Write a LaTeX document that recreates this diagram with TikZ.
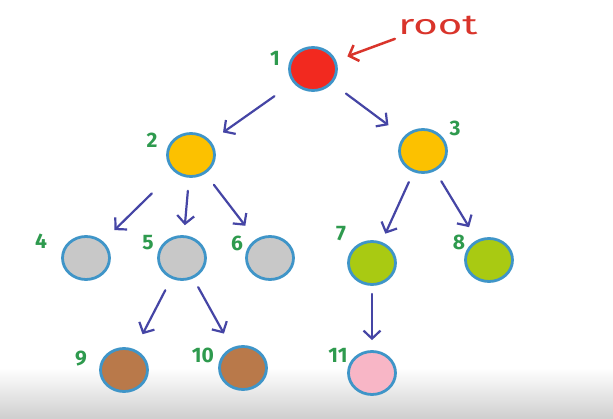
\documentclass[tikz,border=0pt]{standalone}
\usepackage{fontspec}
\setsansfont{Fira Sans}
\usetikzlibrary{shapes.geometric, arrows.meta}
\definecolor{ringblue}{HTML}{3F95C8}
\definecolor{arrowblue}{HTML}{4545A5}
\definecolor{numgreen}{HTML}{2E9A4E}
\definecolor{rootred}{HTML}{D9342B}
\definecolor{fillred}{HTML}{F2291F}
\definecolor{fillorange}{HTML}{FCC100}
\definecolor{fillgray}{HTML}{C8C8C8}
\definecolor{filllime}{HTML}{A9CA12}
\definecolor{fillbrown}{HTML}{B9794A}
\definecolor{fillpink}{HTML}{F8B6C6}

\begin{document}
\begin{tikzpicture}[x=1pt, y=-1pt,
    vertex/.style={ellipse, draw=ringblue, line width=2.8pt, minimum width=47pt, minimum height=43pt, inner sep=0pt},
    num/.style={text=numgreen, font=\sffamily\bfseries\fontsize{21}{21}\selectfont},
    arr/.style={arrowblue, line width=2.2pt, line cap=round, -{Straight Barb[length=8pt, width=17pt]}}]
    \useasboundingbox (0,0) rectangle (613,419);
    \fill[white] (0,0) rectangle (613,419);

    % grey band at the bottom
    \shade[top color=white, bottom color=black!19] (0,368) rectangle (613,419);

    % 1. vertices
    \node[vertex, fill=fillred]    (n1)  at (313,69)  {};
    \node[vertex, fill=fillorange] (n2)  at (191,155) {};
    \node[vertex, fill=fillorange] (n3)  at (423,151) {};
    \node[vertex, fill=fillgray]   (n4)  at (86,258)  {};
    \node[vertex, fill=fillgray]   (n5)  at (182,258) {};
    \node[vertex, fill=fillgray]   (n6)  at (270,258) {};
    \node[vertex, fill=filllime]   (n7)  at (372,263) {};
    \node[vertex, fill=filllime]   (n8)  at (489,260) {};
    \node[vertex, fill=fillbrown]  (n9)  at (124,370) {};
    \node[vertex, fill=fillbrown]  (n10) at (243,368) {};
    \node[vertex, fill=fillpink]   (n11) at (372,373) {};

    % 2. numbers
    \foreach \i/\x/\y in {1/275/58, 2/152/140, 3/455/128, 4/41/241, 5/148/243, 6/237/243,
                          7/341/234, 8/459/242, 9/81/359, 10/203/355, 11/338/355} {
        \node[num] (l\i) at (\x,\y) {\i};
    }

    % 3. edges (start gap / end gap)
    \foreach \a/\b/\s/\e in {1/2/23/15, 1/3/17/19, 2/4/31/16, 2/5/13/10, 2/6/14/17,
                             3/7/11/9, 3/8/12/15, 5/9/13/17, 5/10/10/16, 7/11/8/10} {
        \draw[arr, shorten <=\s pt, shorten >=\e pt] (n\a) -- (n\b);
    }

    % 4. root marker
    \node[text=rootred, font=\sffamily\fontsize{28}{28}\selectfont, anchor=base] (root) at (438,35)
        {\scalebox{1.5}[1]{root}};
    \draw[rootred, line width=2.5pt, line cap=round, -{Straight Barb[length=8pt, width=17pt]},
        shorten >=12pt] (root.south west) -- (n1);
\end{tikzpicture}
\end{document}
